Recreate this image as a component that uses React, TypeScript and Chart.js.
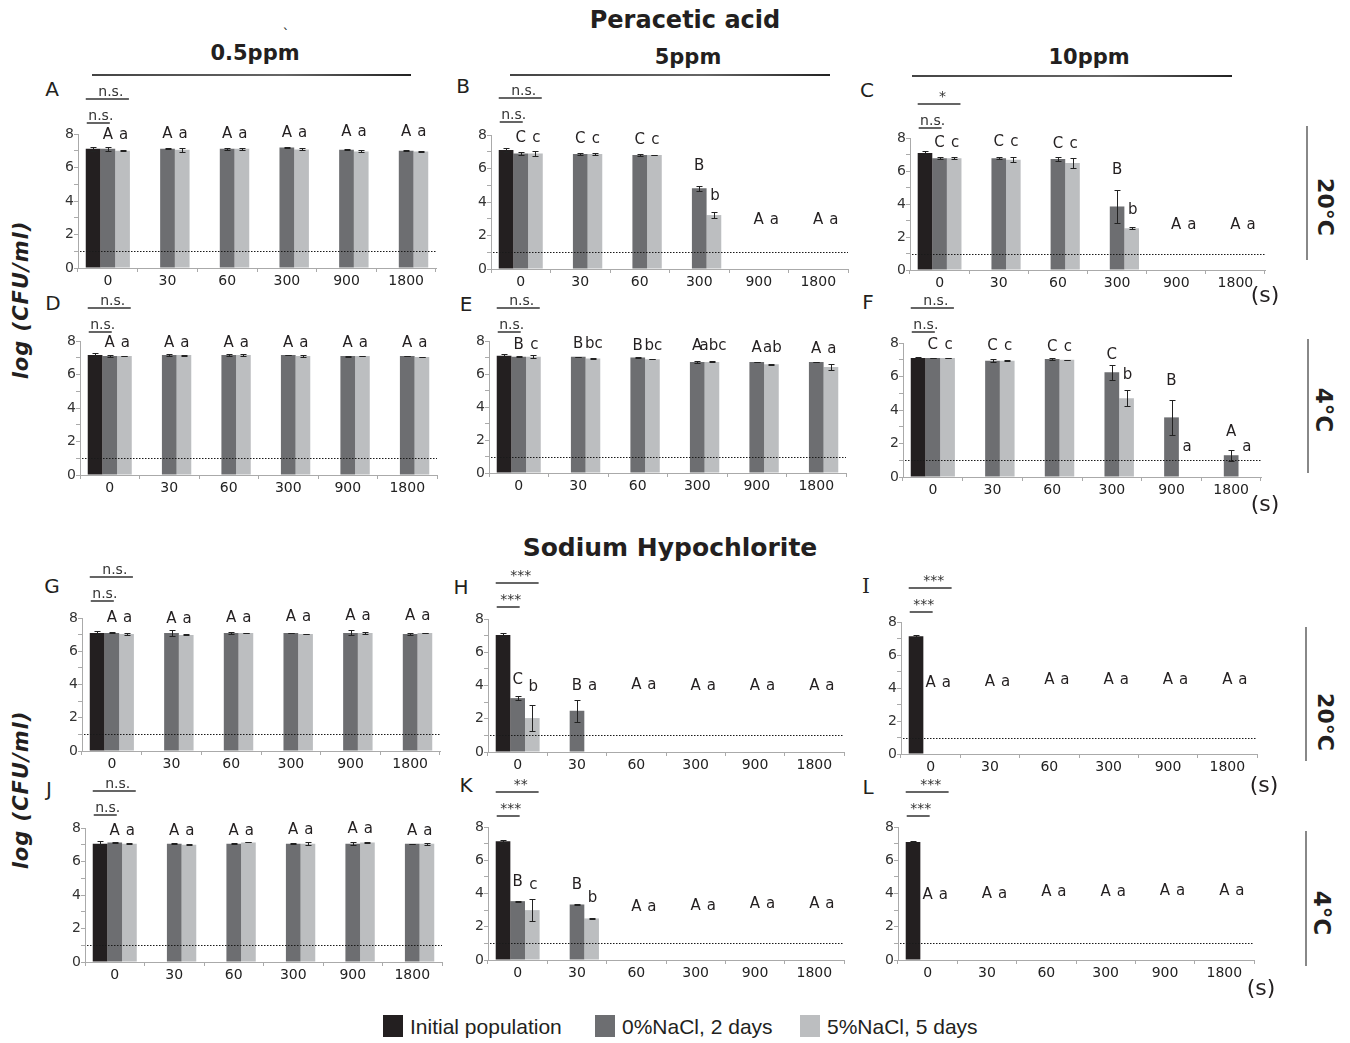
import React, { useEffect, useRef } from 'react';
import { Chart, registerables } from 'chart.js';

Chart.register(...registerables);

// ---------------- DATA ----------------
const timeLabels = ['0', '30', '60', '300', '900', '1800'];
const detectionLimit = 1;
const yMax = 8;
const panelNames = ['A', 'B', 'C', 'D', 'E', 'F', 'G', 'H', 'I', 'J', 'K', 'L'];
const seriesNames = ['Initial population', '0%NaCl, 2 days', '5%NaCl, 5 days'];
const seriesColors = ['#231f20', '#6d6e71', '#bcbec0'];

const initialValues = [7.12, 7.1, 7.09, 7.16, 7.1, 7.1, 7.1, 7.04, 7.14, 7.06, 7.14, 7.1];
const initialErrors = [0.12, 0.1, 0.15, 0.1, 0.1, 0.08, 0.12, 0.12, 0.08, 0.15, 0.08, 0.08];

const nacl0Values: (number | null)[][] = [
  [7.12, 7.12, 7.12, 7.2, 7.06, 7.0],
  [6.9, 6.87, 6.8, 4.82, null, null],
  [6.78, 6.78, 6.72, 3.85, null, null],
  [7.1, 7.16, 7.16, 7.16, 7.1, 7.1],
  [7.04, 7.04, 7.0, 6.73, 6.73, 6.73],
  [7.1, 6.94, 7.04, 6.26, 3.56, 1.3],
  [7.1, 7.1, 7.1, 7.1, 7.1, 7.04],
  [3.24, 2.48, null, null, null, null],
  [null, null, null, null, null, null],
  [7.14, 7.06, 7.06, 7.06, 7.06, 7.06],
  [3.54, 3.34, null, null, null, null],
  [null, null, null, null, null, null],
];
const nacl0Errors: number[][] = [
  [0.12, 0.03, 0.06, 0.04, 0.03, 0.03],
  [0.1, 0.07, 0.07, 0.15, 0, 0],
  [0.08, 0.07, 0.1, 1.02, 0, 0],
  [0.05, 0.04, 0.06, 0.01, 0.03, 0.02],
  [0.03, 0.02, 0.02, 0.05, 0.01, 0.01],
  [0.02, 0.1, 0.05, 0.45, 1.05, 0.33],
  [0.03, 0.2, 0.04, 0.02, 0.15, 0.06],
  [0.1, 0.65, 0, 0, 0, 0],
  [0, 0, 0, 0, 0, 0],
  [0.03, 0.03, 0.03, 0.02, 0.1, 0.01],
  [0.03, 0.03, 0, 0, 0, 0],
  [0, 0, 0, 0, 0, 0],
];
const nacl5Values: (number | null)[][] = [
  [7.0, 7.06, 7.12, 7.08, 6.96, 6.95],
  [6.9, 6.87, 6.8, 3.22, null, null],
  [6.78, 6.68, 6.48, 2.53, null, null],
  [7.1, 7.16, 7.16, 7.1, 7.1, 7.05],
  [7.04, 6.94, 6.9, 6.73, 6.59, 6.43],
  [7.1, 6.94, 7.0, 4.7, null, null],
  [7.04, 6.98, 7.1, 7.04, 7.1, 7.1],
  [2.04, null, null, null, null, null],
  [null, null, null, null, null, null],
  [7.06, 7.0, 7.14, 7.06, 7.14, 7.06],
  [3.0, 2.5, null, null, null, null],
  [null, null, null, null, null, null],
];
const nacl5Errors: number[][] = [
  [0.03, 0.12, 0.05, 0.06, 0.06, 0.05],
  [0.15, 0.05, 0.02, 0.2, 0, 0],
  [0.08, 0.15, 0.28, 0.05, 0, 0],
  [0.02, 0.03, 0.06, 0.05, 0.02, 0.02],
  [0.1, 0.03, 0, 0.03, 0.04, 0.2],
  [0.02, 0.03, 0, 0.48, 0, 0],
  [0.06, 0.03, 0, 0.02, 0.05, 0.02],
  [0.8, 0, 0, 0, 0, 0],
  [0, 0, 0, 0, 0, 0],
  [0.02, 0.02, 0, 0.08, 0.03, 0.05],
  [0.65, 0.03, 0, 0, 0, 0],
  [0, 0, 0, 0, 0, 0],
];

// significance letters (capital: 0% NaCl, lowercase: 5% NaCl) and their heights (log units)
const upperLetters: string[][] = [
  ['A', 'A', 'A', 'A', 'A', 'A'],
  ['C', 'C', 'C', 'B', 'A', 'A'],
  ['C', 'C', 'C', 'B', 'A', 'A'],
  ['A', 'A', 'A', 'A', 'A', 'A'],
  ['B', 'B', 'B', 'A', 'A', 'A'],
  ['C', 'C', 'C', 'C', 'B', 'A'],
  ['A', 'A', 'A', 'A', 'A', 'A'],
  ['C', 'B', 'A', 'A', 'A', 'A'],
  ['A', 'A', 'A', 'A', 'A', 'A'],
  ['A', 'A', 'A', 'A', 'A', 'A'],
  ['B', 'B', 'A', 'A', 'A', 'A'],
  ['A', 'A', 'A', 'A', 'A', 'A'],
];
const lowerLetters: string[][] = [
  ['a', 'a', 'a', 'a', 'a', 'a'],
  ['c', 'c', 'c', 'b', 'a', 'a'],
  ['c', 'c', 'c', 'b', 'a', 'a'],
  ['a', 'a', 'a', 'a', 'a', 'a'],
  ['c', 'bc', 'bc', 'abc', 'ab', 'a'],
  ['c', 'c', 'c', 'b', 'a', 'a'],
  ['a', 'a', 'a', 'a', 'a', 'a'],
  ['b', 'a', 'a', 'a', 'a', 'a'],
  ['a', 'a', 'a', 'a', 'a', 'a'],
  ['a', 'a', 'a', 'a', 'a', 'a'],
  ['c', 'b', 'a', 'a', 'a', 'a'],
  ['a', 'a', 'a', 'a', 'a', 'a'],
];
const upperLetterY: number[][] = [
  [7.96, 8.0, 8.02, 8.06, 8.12, 8.14],
  [7.8, 7.76, 7.7, 6.15, 2.93, 2.93],
  [7.69, 7.73, 7.65, 6.07, 2.73, 2.73],
  [7.86, 7.86, 7.86, 7.88, 7.9, 7.9],
  [7.76, 7.8, 7.7, 7.7, 7.56, 7.5],
  [7.86, 7.8, 7.76, 7.3, 5.74, 2.7],
  [8.0, 7.96, 8.0, 8.06, 8.1, 8.14],
  [4.34, 3.98, 4.04, 3.94, 3.94, 3.98],
  [4.31, 4.37, 4.48, 4.48, 4.5, 4.5],
  [7.8, 7.8, 7.84, 7.86, 7.94, 7.84],
  [4.7, 4.5, 3.2, 3.24, 3.34, 3.34],
  [3.92, 3.98, 4.06, 4.06, 4.14, 4.14],
];
const lowerLetterY: number[][] = [
  [7.96, 8.0, 8.02, 8.06, 8.12, 8.14],
  [7.8, 7.76, 7.7, 4.36, 2.93, 2.93],
  [7.69, 7.73, 7.65, 3.6, 2.73, 2.73],
  [7.86, 7.86, 7.86, 7.88, 7.9, 7.9],
  [7.76, 7.8, 7.7, 7.7, 7.56, 7.5],
  [7.86, 7.8, 7.76, 6.1, 1.8, 1.8],
  [8.0, 7.96, 8.0, 8.06, 8.1, 8.14],
  [3.9, 3.98, 4.04, 3.94, 3.94, 3.98],
  [4.31, 4.37, 4.48, 4.48, 4.5, 4.5],
  [7.8, 7.8, 7.84, 7.86, 7.94, 7.84],
  [4.5, 3.74, 3.2, 3.24, 3.34, 3.34],
  [3.92, 3.98, 4.06, 4.06, 4.14, 4.14],
];
// comparison of initial population vs 5% NaCl (upper) and vs 0% NaCl (lower)
const upperBracketLabels = ['n.s.', 'n.s.', '*', 'n.s.', 'n.s.', 'n.s.', 'n.s.', '***', '***', 'n.s.', '**', '***'];
const lowerBracketLabels = ['n.s.', 'n.s.', 'n.s.', 'n.s.', 'n.s.', 'n.s.', 'n.s.', '***', '***', 'n.s.', '***', '***'];

// ---------------- LAYOUT ----------------
const panelAreas = [
  { l: 78, t: 134, r: 436, b: 268 },
  { l: 491, t: 135, r: 848, b: 269 },
  { l: 910, t: 138, r: 1265, b: 270 },
  { l: 80, t: 341, r: 437, b: 475 },
  { l: 489, t: 341, r: 846, b: 473 },
  { l: 903, t: 343, r: 1261, b: 477 },
  { l: 82, t: 618, r: 440, b: 751 },
  { l: 488, t: 619, r: 844, b: 752 },
  { l: 901, t: 622, r: 1257, b: 754 },
  { l: 85, t: 828, r: 442, b: 962 },
  { l: 488, t: 827, r: 844, b: 960 },
  { l: 898, t: 827, r: 1254, b: 960 },
];
const panelLetterPos = [
  [52, 89], [463, 86], [867, 90], [53, 303], [466, 304], [868, 302],
  [52, 586], [461, 587], [866, 586], [49, 789], [466, 785], [868, 787],
];
const bracketShift = [0, -2, 1, 2, 2, 0, -6, -1, 1, -2, 0, 0];

const PAD_L = 32;
const PAD_T = 62;
const PAD_R = 8;
const PAD_B = 28;
const CAT_PCT = 0.74;
const FONT = '"DejaVu Sans", Verdana, sans-serif';

function makePlugin(idx: number) {
  return {
    id: 'annot' + idx,
    afterDatasetsDraw(chart: any) {
      const ctx: CanvasRenderingContext2D = chart.ctx;
      const xs = chart.scales.x;
      const ys = chart.scales.y;
      const ca = chart.chartArea;
      const catW = (ca.right - ca.left) / timeLabels.length;
      const barW = (catW * CAT_PCT) / 3;
      const vals: (number | null)[][] = [
        timeLabels.map((_, i) => (i === 0 ? initialValues[idx] : null)),
        nacl0Values[idx],
        nacl5Values[idx],
      ];
      const errs: number[][] = [
        timeLabels.map((_, i) => (i === 0 ? initialErrors[idx] : 0)),
        nacl0Errors[idx],
        nacl5Errors[idx],
      ];
      ctx.save();
      // detection limit
      const yd = Math.round(ys.getPixelForValue(detectionLimit)) + 0.5;
      ctx.strokeStyle = '#1a1a1a';
      ctx.lineWidth = 1;
      ctx.setLineDash([1.5, 1.5]);
      ctx.beginPath();
      ctx.moveTo(ca.left + 2, yd);
      ctx.lineTo(ca.right, yd);
      ctx.stroke();
      ctx.setLineDash([]);
      // error bars
      ctx.strokeStyle = '#222';
      ctx.lineWidth = 1;
      for (let s = 0; s < 3; s++) {
        for (let i = 0; i < timeLabels.length; i++) {
          const v = vals[s][i];
          if (v === null || v === undefined) continue;
          const e = errs[s][i] || 0;
          const x = Math.round(xs.getPixelForValue(i) + (s - 1) * barW) + 0.5;
          const y1 = Math.round(ys.getPixelForValue(v + e)) + 0.5;
          const y2 = Math.round(ys.getPixelForValue(v - e)) + 0.5;
          ctx.beginPath();
          ctx.moveTo(x, y1);
          ctx.lineTo(x, y2);
          ctx.moveTo(x - 3, y1);
          ctx.lineTo(x + 3, y1);
          ctx.moveTo(x - 3, y2);
          ctx.lineTo(x + 3, y2);
          ctx.stroke();
        }
      }
      // letters
      ctx.fillStyle = '#231f20';
      ctx.font = '15px ' + FONT;
      ctx.textAlign = 'center';
      ctx.textBaseline = 'middle';
      for (let i = 0; i < timeLabels.length; i++) {
        const cx = xs.getPixelForValue(i);
        ctx.fillText(upperLetters[idx][i], cx, ys.getPixelForValue(upperLetterY[idx][i]));
        ctx.fillText(lowerLetters[idx][i], cx + barW + 1, ys.getPixelForValue(lowerLetterY[idx][i]));
      }
      // brackets
      const c0 = xs.getPixelForValue(0);
      const startX = c0 - 1.5 * barW;
      const upperY = ca.top - 35 + bracketShift[idx];
      const lowerY = ca.top - 11 + bracketShift[idx];
      ctx.strokeStyle = '#333';
      ctx.lineWidth = 1.6;
      ctx.beginPath();
      ctx.moveTo(startX, upperY);
      ctx.lineTo(c0 + 1.5 * barW - 1, upperY);
      ctx.moveTo(startX + 1, lowerY);
      ctx.lineTo(c0 + 2, lowerY);
      ctx.stroke();
      ctx.font = '14px ' + FONT;
      ctx.fillStyle = '#333';
      ctx.textBaseline = 'alphabetic';
      ctx.fillText(upperBracketLabels[idx], (startX + c0 + 1.5 * barW) / 2 + 3, upperY - 3);
      ctx.fillText(lowerBracketLabels[idx], (startX + c0) / 2 + 4, lowerY - 3);
      ctx.restore();
    },
  };
}

function Panel({ idx }: { idx: number }) {
  const ref = useRef<HTMLCanvasElement>(null);
  const a = panelAreas[idx];
  const W = a.r - a.l + PAD_L + PAD_R;
  const H = a.b - a.t + PAD_T + PAD_B;
  useEffect(() => {
    if (!ref.current) return;
    const chart = new Chart(ref.current, {
      type: 'bar',
      data: {
        labels: timeLabels,
        datasets: [
          {
            label: seriesNames[0],
            data: timeLabels.map((_, i) => (i === 0 ? initialValues[idx] : null)),
            backgroundColor: seriesColors[0],
          },
          { label: seriesNames[1], data: nacl0Values[idx], backgroundColor: seriesColors[1] },
          { label: seriesNames[2], data: nacl5Values[idx], backgroundColor: seriesColors[2] },
        ],
      },
      options: {
        responsive: false,
        animation: false,
        devicePixelRatio: 1,
        events: [],
        layout: { padding: { left: 0, top: PAD_T, right: PAD_R, bottom: 0 } },
        datasets: { bar: { categoryPercentage: CAT_PCT, barPercentage: 1, borderWidth: 0 } },
        plugins: { legend: { display: false }, tooltip: { enabled: false }, title: { display: false } },
        scales: {
          x: {
            type: 'category',
            grid: { drawOnChartArea: false, drawTicks: true, tickLength: 4, color: '#aaa', offset: true },
            border: { color: '#aaa' },
            ticks: { font: { family: FONT, size: 14 }, color: '#222', padding: 1, maxRotation: 0, autoSkip: false },
            afterFit: (s: any) => {
              s.height = PAD_B;
            },
          },
          y: {
            min: 0,
            max: yMax,
            grid: { drawOnChartArea: false, drawTicks: true, tickLength: 4, color: '#aaa' },
            border: { color: '#aaa' },
            ticks: {
              stepSize: 1,
              autoSkip: false,
              padding: 0,
              font: { family: FONT, size: 14 },
              color: '#333',
              callback: (v: any) => (Number(v) % 2 === 0 ? String(v) : ''),
            },
            afterFit: (s: any) => {
              s.width = PAD_L;
            },
          },
        },
      },
      plugins: [makePlugin(idx)],
    } as any);
    return () => chart.destroy();
  }, [idx]);
  return (
    <canvas
      ref={ref}
      width={W}
      height={H}
      style={{ position: 'absolute', left: a.l - PAD_L, top: a.t - PAD_T, width: W, height: H }}
    />
  );
}

function Txt(props: {
  x: number;
  y: number;
  text: string;
  size: number;
  bold?: boolean;
  italic?: boolean;
  rot?: number;
  family?: string;
  color?: string;
  spacing?: number;
}) {
  return (
    <div
      style={{
        position: 'absolute',
        left: props.x,
        top: props.y,
        transform: `translate(-50%, -50%) rotate(${props.rot || 0}deg)`,
        fontFamily: props.family || FONT,
        fontSize: props.size,
        fontWeight: props.bold ? 'bold' : 'normal',
        fontStyle: props.italic ? 'italic' : 'normal',
        color: props.color || '#231f20',
        whiteSpace: 'nowrap',
        lineHeight: 1,
        letterSpacing: props.spacing ? props.spacing + 'px' : undefined,
      }}
    >
      {props.text}
    </div>
  );
}

function HLine({ x1, x2, y }: { x1: number; x2: number; y: number }) {
  return (
    <div
      style={{
        position: 'absolute',
        left: x1,
        top: y - 1,
        width: x2 - x1,
        height: 2,
        background: 'linear-gradient(to right, #444, #666 60%, #222)',
      }}
    />
  );
}

function VLine({ x, y1, y2 }: { x: number; y1: number; y2: number }) {
  return <div style={{ position: 'absolute', left: x - 1, top: y1, width: 2, height: y2 - y1, background: '#888' }} />;
}

export default function App() {
  const legendX = [383, 595, 800];
  return (
    <div
      style={{
        position: 'absolute',
        left: 0,
        top: 0,
        width: 1350,
        height: 1043,
        background: '#fff',
        overflow: 'hidden',
      }}
    >
      <Txt x={685} y={20} text="Peracetic acid" size={24} bold />
      <Txt x={286} y={34} text="`" size={14} />
      <Txt x={255} y={53} text="0.5ppm" size={21} bold />
      <Txt x={688} y={57} text="5ppm" size={21} bold />
      <Txt x={1089} y={57} text="10ppm" size={21} bold />
      <HLine x1={92} x2={411} y={75} />
      <HLine x1={510} x2={830} y={75} />
      <HLine x1={912} x2={1232} y={76} />
      <Txt x={670} y={547} text="Sodium Hypochlorite" size={25} bold />

      {panelNames.map((n, i) => (
        <Txt
          key={'pl' + n}
          x={panelLetterPos[i][0]}
          y={panelLetterPos[i][1]}
          text={n}
          size={20}
          family={n === 'I' ? '"DejaVu Serif", serif' : FONT}
        />
      ))}

      {panelNames.map((n, i) => (
        <Panel key={n} idx={i} />
      ))}

      <Txt x={21} y={300} text="log (CFU/ml)" size={21} bold italic rot={-90} spacing={1} />
      <Txt x={21} y={790} text="log (CFU/ml)" size={21} bold italic rot={-90} spacing={1} />

      <Txt x={1325} y={207} text="20°C" size={22} bold rot={90} />
      <Txt x={1323} y={410} text="4°C" size={23} bold rot={90} />
      <Txt x={1325} y={722} text="20°C" size={22} bold rot={90} />
      <Txt x={1321} y={913} text="4°C" size={23} bold rot={90} />
      <VLine x={1307} y1={126} y2={260} />
      <VLine x={1308} y1={339} y2={473} />
      <VLine x={1306} y1={627} y2={761} />
      <VLine x={1306} y1={831} y2={966} />

      <Txt x={1265} y={295} text="(s)" size={22} />
      <Txt x={1265} y={504} text="(s)" size={22} />
      <Txt x={1264} y={785} text="(s)" size={22} />
      <Txt x={1261} y={988} text="(s)" size={22} />

      {seriesNames.map((n, i) => (
        <React.Fragment key={'lg' + i}>
          <div
            style={{
              position: 'absolute',
              left: legendX[i],
              top: 1015,
              width: 20,
              height: 22,
              background: seriesColors[i],
            }}
          />
          <div
            style={{
              position: 'absolute',
              left: legendX[i] + 27,
              top: 1015,
              fontFamily: '"Liberation Sans", Arial, sans-serif',
              fontSize: 21,
              lineHeight: '24px',
              color: '#231f20',
              whiteSpace: 'nowrap',
            }}
          >
            {n}
          </div>
        </React.Fragment>
      ))}
    </div>
  );
}
